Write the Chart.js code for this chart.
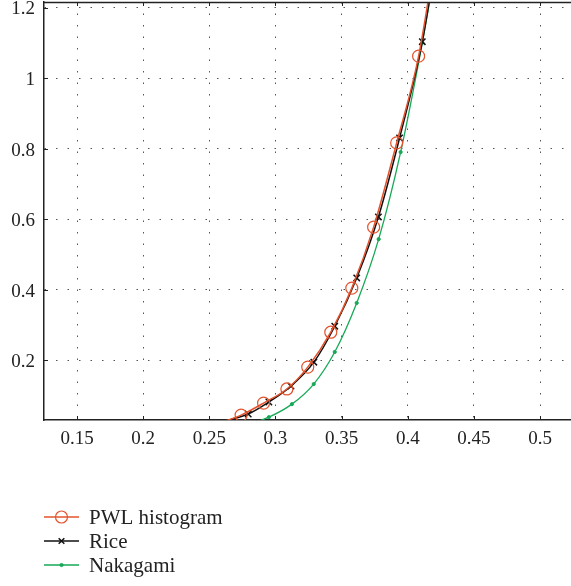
<!DOCTYPE html>
<html>
<head>
<meta charset="utf-8">
<script src="https://cdn.jsdelivr.net/npm/chart.js@4.4.1/dist/chart.umd.min.js"></script>
<style>
  html, body { margin: 0; padding: 0; background: #fff; }
  #wrap { width: 571px; height: 586px; }
</style>
</head>
<body>
<div id="wrap"><canvas id="lineChart"></canvas></div>
<script>
// data
const seriesNames = ["PWL histogram", "Rice", "Nakagami"];

const pwlX = [0.257, 0.274, 0.291, 0.3086, 0.3244, 0.3418, 0.3577, 0.3742, 0.3916, 0.4082, 0.425];
const pwlY = [0.021, 0.044, 0.078, 0.118, 0.180, 0.279, 0.404, 0.577, 0.816, 1.062, 1.45];

const riceX = [0.2627, 0.2794, 0.295, 0.3117, 0.329, 0.3448, 0.3614, 0.3778, 0.3938, 0.411, 0.428];
const riceY = [0.028, 0.047, 0.081, 0.126, 0.194, 0.296, 0.433, 0.606, 0.830, 1.103, 1.50];

const nakX = [0.278, 0.295, 0.3124, 0.3289, 0.3448, 0.3614, 0.378, 0.3946, 0.411, 0.4275];
const nakY = [0.015, 0.038, 0.075, 0.132, 0.223, 0.362, 0.543, 0.790, 1.10, 1.45];

const xTicks = [0.15, 0.2, 0.25, 0.3, 0.35, 0.4, 0.45, 0.5];
const yTicks = [0.2, 0.4, 0.6, 0.8, 1, 1.2];

const xMin = 0.125, xMax = 0.5234;
const yMin = 0.03, yMax = 1.2156;

const serif = "'Liberation Serif', 'DejaVu Serif', serif";

function toPoints(xs, ys) {
  return xs.map((x, i) => ({ x: x, y: ys[i] }));
}

// hide markers that fall outside the visible range
function radiusIn(r) {
  return (c) => (c.raw && (c.raw.y < yMin || c.raw.y > yMax) ? 0 : r);
}

// frame on top + small inner tick marks, and the legend under the plot
const framePlugin = {
  id: "frame",
  afterDraw(chart) {
    const ctx = chart.ctx;
    const a = chart.chartArea;
    const xs = chart.scales.x;
    const ys = chart.scales.y;
    ctx.save();
    ctx.strokeStyle = "#222";
    ctx.lineWidth = 1.5;
    ctx.beginPath();
    ctx.moveTo(a.left, a.top + 0.5);
    ctx.lineTo(a.right, a.top + 0.5);
    ctx.stroke();
    ctx.lineWidth = 1;
    ctx.beginPath();
    xTicks.forEach((v) => {
      const px = Math.round(xs.getPixelForValue(v)) + 0.5;
      ctx.moveTo(px, a.bottom);
      ctx.lineTo(px, a.bottom - 4);
      ctx.moveTo(px, a.top);
      ctx.lineTo(px, a.top + 4);
    });
    yTicks.forEach((v) => {
      const py = Math.round(ys.getPixelForValue(v)) + 0.5;
      ctx.moveTo(a.left, py);
      ctx.lineTo(a.left + 4, py);
    });
    ctx.stroke();

    // legend
    const rows = [517, 541, 565];
    ctx.font = "21px " + serif;
    ctx.textBaseline = "middle";
    chart.data.datasets.forEach((ds, i) => {
      const y = rows[i];
      ctx.strokeStyle = ds.borderColor;
      ctx.lineWidth = ds.borderWidth;
      ctx.beginPath();
      ctx.moveTo(44, y);
      ctx.lineTo(79, y);
      ctx.stroke();
      ctx.strokeStyle = ds.pointBorderColor;
      ctx.fillStyle = ds.pointBackgroundColor;
      ctx.lineWidth = ds.pointBorderWidth;
      Chart.helpers.drawPoint(ctx, {
        pointStyle: ds.pointStyle,
        radius: ds.legendRadius,
        rotation: 0,
        borderWidth: ds.pointBorderWidth,
      }, 61.5, y);
      ctx.fillStyle = "#222";
      ctx.fillText(ds.label, 89, y + 1);
    });
    ctx.restore();
  },
};

const ctx = document.getElementById("lineChart").getContext("2d");
const myChart = new Chart(ctx, {
  type: "line",
  data: {
    datasets: [
      {
        label: seriesNames[0],
        data: toPoints(pwlX, pwlY),
        borderColor: "#e2532d",
        borderWidth: 1.5,
        pointStyle: "circle",
        pointRadius: radiusIn(6),
        legendRadius: 6,
        pointBorderColor: "#e2532d",
        pointBackgroundColor: "rgba(0,0,0,0)",
        pointBorderWidth: 1.2,
        cubicInterpolationMode: "monotone",
      },
      {
        label: seriesNames[1],
        data: toPoints(riceX, riceY),
        borderColor: "#111",
        borderWidth: 1.5,
        pointStyle: "crossRot",
        pointRadius: radiusIn(4.5),
        legendRadius: 4,
        pointBorderColor: "#111",
        pointBackgroundColor: "#111",
        pointBorderWidth: 1.5,
        cubicInterpolationMode: "monotone",
      },
      {
        label: seriesNames[2],
        data: toPoints(nakX, nakY),
        borderColor: "#17a957",
        borderWidth: 1.3,
        pointStyle: "circle",
        pointRadius: radiusIn(1.6),
        legendRadius: 1.6,
        pointBorderColor: "#17a957",
        pointBackgroundColor: "#17a957",
        pointBorderWidth: 1,
        cubicInterpolationMode: "monotone",
      },
    ],
  },
  options: {
    responsive: true,
    maintainAspectRatio: false,
    animation: false,
    layout: { padding: { top: 2, right: 0, left: 0, bottom: 126 } },
    plugins: {
      legend: { display: false },
      tooltip: { enabled: false },
    },
    scales: {
      x: {
        type: "linear",
        min: xMin,
        max: xMax,
        afterBuildTicks: (s) => { s.ticks = xTicks.map((v) => ({ value: v })); },
        afterFit: (s) => { s.height = 40; s.paddingLeft = 0; s.paddingRight = 0; },
        ticks: {
          padding: 8,
          color: "#222",
          font: { family: serif, size: 19 },
          callback: (v) => String(v),
        },
        grid: { color: "#555", lineWidth: 1, drawTicks: false },
        border: { display: true, color: "#222", width: 1.5, dash: [1.5, 10] },
      },
      y: {
        type: "linear",
        min: yMin,
        max: yMax,
        afterBuildTicks: (s) => { s.ticks = yTicks.map((v) => ({ value: v })); },
        afterFit: (s) => { s.width = 44; s.paddingTop = 0; s.paddingBottom = 0; },
        ticks: {
          padding: 9,
          labelOffset: 2,
          color: "#222",
          font: { family: serif, size: 19 },
          callback: (v) => String(v),
        },
        grid: { color: "#555", lineWidth: 1, drawTicks: false },
        border: { display: true, color: "#222", width: 1.5, dash: [1.5, 10] },
      },
    },
  },
  plugins: [framePlugin],
});
</script>
</body>
</html>
